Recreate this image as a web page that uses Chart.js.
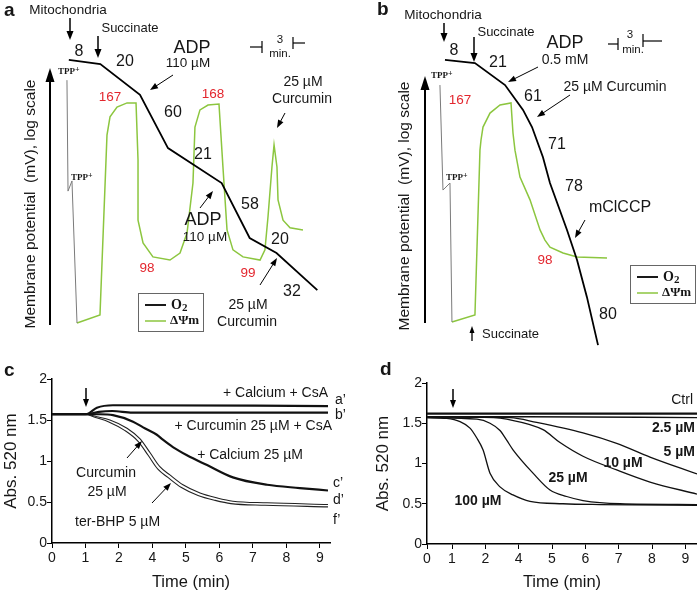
<!DOCTYPE html>
<html><head><meta charset="utf-8">
<script src="https://cdn.jsdelivr.net/npm/chart.js@4.4.1/dist/chart.umd.min.js"></script>
<style>
html,body{margin:0;padding:0;background:#fff;}
#wrap{position:relative;width:697px;height:592px;overflow:hidden;background:#fff;}
canvas{position:absolute;}
</style></head><body>
<div id="wrap">
<canvas id="ca" width="350" height="350" style="left:0;top:0"></canvas>
<canvas id="cb" width="347" height="350" style="left:350px;top:0"></canvas>
<canvas id="cc" width="350" height="232" style="left:0;top:360px"></canvas>
<canvas id="cd" width="347" height="232" style="left:350px;top:360px"></canvas>
</div>
<script>
// ================= DATA =================
// Panel a: schematic traces (x = time in min, y = signal, arbitrary log units)
const aO2Time = [5.9, 8.6, 12.0, 14.4, 19.0, 21.4, 23.7, 27.2];
const aO2Val  = [82.9, 81.7, 72.9, 57.7, 47.7, 32.0, 27.7, 17.1];
const aTppTime = [5.74, 5.83, 6.17, 6.60];
const aTppVal  = [77.1, 45.4, 48.3, 7.7];
const aPsiTime = [6.60, 8.57, 9.17, 9.43, 10.03, 10.89, 11.66, 11.83, 11.83, 12.26, 13.11, 14.57, 15.43, 16.03, 16.54, 16.71, 17.14, 17.83, 18.77, 19.11, 19.46, 19.97, 20.83, 22.29, 22.71, 22.97, 23.31, 23.49, 23.74, 23.83, 24.26, 24.86, 25.97];
const aPsiVal  = [7.7, 10.0, 61.4, 66.6, 69.4, 70.6, 70.6, 54.3, 37.1, 30.6, 26.6, 25.7, 27.7, 33.4, 47.7, 63.7, 68.6, 70.0, 70.3, 52.3, 34.3, 28.6, 26.6, 25.7, 28.6, 38.0, 52.3, 58.6, 52.3, 42.9, 37.1, 34.9, 34.3];

// Panel b
const bO2Time = [8.14, 10.71, 13.29, 14.83, 15.60, 16.54, 17.14, 18.60, 19.46, 20.31, 21.26];
const bO2Val  = [82.9, 82.0, 75.7, 68.6, 63.7, 55.1, 47.7, 34.3, 25.7, 15.1, 1.4];
const bTppTime = [7.71, 7.97, 8.57, 8.74];
const bTppVal  = [75.7, 45.7, 47.7, 8.0];
const bPsiTime = [8.74, 10.71, 11.14, 11.23, 11.40, 12.0, 12.86, 13.80, 13.97, 14.14, 14.57, 15.43, 16.29, 16.71, 17.14, 18.26, 19.46, 22.03];
const bPsiVal  = [8.0, 10.0, 57.1, 60.0, 63.7, 67.7, 70.0, 70.6, 62.0, 57.1, 49.4, 42.9, 34.3, 31.4, 29.4, 27.7, 26.6, 26.3];

// Panel c (x = tick position, labels below; y = Abs. 520 nm)
const cTickPos = [0, 1, 2, 3, 4, 5, 6, 7, 8];
const cTickLabels = ['0', '1', '2', '4', '5', '6', '7', '8', '9'];
const yTickVals = [0, 0.5, 1, 1.5, 2];
const yTickLabels = ['0', '0.5', '1', '1.5', '2'];
const cATime = [0, 1.01, 1.34, 1.82, 8.24];
const cAVal  = [1.57, 1.57, 1.65, 1.68, 1.67];
const cBTime = [0, 1.0, 1.4, 1.8, 2.4, 8.24];
const cBVal  = [1.57, 1.57, 1.60, 1.61, 1.59, 1.59];
const cCTime = [0, 1.0, 1.43, 1.82, 2.42, 2.72, 3.13, 3.31, 3.61, 4.03, 4.63, 5.40, 6.42, 7.40, 8.24];
const cCVal  = [1.57, 1.57, 1.57, 1.56, 1.48, 1.41, 1.32, 1.26, 1.17, 1.07, 0.95, 0.80, 0.71, 0.67, 0.64];
const cDTime = [0, 1.0, 1.34, 1.73, 2.24, 2.63, 2.93, 3.22, 3.52, 3.91, 4.42, 4.93, 5.40, 6.42, 8.24];
const cDVal  = [1.57, 1.57, 1.54, 1.50, 1.40, 1.27, 1.10, 0.93, 0.83, 0.71, 0.61, 0.55, 0.51, 0.49, 0.47];
const cFTime = [0, 1.0, 1.30, 1.68, 2.18, 2.57, 2.87, 3.16, 3.46, 3.85, 4.36, 4.87, 5.34, 6.36, 8.24];
const cFVal  = [1.57, 1.57, 1.53, 1.48, 1.37, 1.24, 1.07, 0.90, 0.80, 0.68, 0.58, 0.52, 0.48, 0.46, 0.44];

// Panel d
const dTickPos = [0, 0.75, 1.75, 2.75, 3.75, 4.75, 5.75, 6.75, 7.75];
const dTickLabels = ['0', '1', '2', '4', '5', '6', '7', '8', '9'];
const dCtrlTime = [0, 8.1];
const dCtrlVal  = [1.62, 1.62];
const d2_5Time = [0, 3, 8.1];
const d2_5Val  = [1.58, 1.58, 1.57];
const d5Time = [0, 2.5, 3.29, 4.68, 5.69, 6.69, 8.1];
const d5Val  = [1.58, 1.57, 1.51, 1.38, 1.25, 1.08, 0.87];
const d10Time = [0, 2.0, 2.39, 3.48, 3.99, 4.68, 5.69, 6.69, 8.1];
const d10Val  = [1.58, 1.57, 1.55, 1.42, 1.26, 1.09, 0.92, 0.77, 0.62];
const d25Time = [0, 1.5, 1.89, 2.19, 2.39, 2.58, 3.18, 3.69, 4.19, 4.68, 5.79, 8.1];
const d25Val  = [1.57, 1.55, 1.50, 1.41, 1.29, 1.17, 0.88, 0.67, 0.59, 0.54, 0.50, 0.49];
const d100Time = [0, 0.59, 0.99, 1.29, 1.49, 1.68, 1.89, 2.19, 2.58, 3.09, 4.08, 5.19, 8.1];
const d100Val  = [1.57, 1.56, 1.52, 1.44, 1.32, 1.17, 0.88, 0.71, 0.61, 0.53, 0.50, 0.49, 0.48];

// ================= STYLE =================
const F = '"Liberation Sans", Arial, sans-serif';
const SERIF = '"Liberation Serif", "Times New Roman", serif';
const INK = '#161616';
const RED = '#e3262e';
const GREEN = '#8cc63f';
const GRAY = '#7a7a7a';
const PX_PER_MIN = 35 / 3; // scale bar: 3 min
Chart.defaults.font.family = F;
Chart.defaults.color = INK;

const pts = (xs, ys) => xs.map((x, i) => ({x: x, y: ys[i]}));

function drawArrow(ctx, a) {
  const w = a.w || 1, hl = a.hl || 8, hw = a.hw || 6;
  const dx = a.x2 - a.x1, dy = a.y2 - a.y1, L = Math.hypot(dx, dy);
  const ux = dx / L, uy = dy / L;
  const bx = a.x2 - ux * hl, by = a.y2 - uy * hl;
  ctx.strokeStyle = ctx.fillStyle = a.c || '#000';
  ctx.lineWidth = w;
  ctx.beginPath(); ctx.moveTo(a.x1, a.y1); ctx.lineTo(bx + ux, by + uy); ctx.stroke();
  ctx.beginPath(); ctx.moveTo(a.x2, a.y2);
  ctx.lineTo(bx - uy * hw / 2, by + ux * hw / 2);
  ctx.lineTo(bx + uy * hw / 2, by - ux * hw / 2);
  ctx.closePath(); ctx.fill();
}
function drawText(ctx, t) {
  ctx.save();
  ctx.font = (t.b ? 'bold ' : '') + t.f + 'px ' + (t.ff || F);
  ctx.fillStyle = t.c || INK;
  ctx.textAlign = t.al || 'center';
  ctx.textBaseline = 'middle';
  ctx.translate(t.x, t.y);
  if (t.r) ctx.rotate(t.r * Math.PI / 180);
  ctx.fillText(t.s, 0, 0);
  ctx.restore();
}
const annotPlugin = {
  id: 'annot',
  afterDraw(chart, args, o) {
    const ctx = chart.ctx;
    ctx.save();
    ctx.translate(-o.ox, -o.oy);
    (o.boxes || []).forEach(b => { ctx.strokeStyle = b.c || '#666'; ctx.lineWidth = 1; ctx.strokeRect(b.x + 0.5, b.y + 0.5, b.w, b.h); });
    (o.segs || []).forEach(s => {
      ctx.beginPath(); ctx.strokeStyle = s.c || '#000'; ctx.lineWidth = s.w || 1.2;
      ctx.moveTo(s.p[0], s.p[1]);
      for (let i = 2; i < s.p.length; i += 2) ctx.lineTo(s.p[i], s.p[i + 1]);
      ctx.stroke();
    });
    (o.arrows || []).forEach(a => drawArrow(ctx, a));
    (o.texts || []).forEach(t => drawText(ctx, t));
    ctx.restore();
  }
};
function tpp(x, y) {
  return [{s: 'TPP', x: x + 5, y: y, f: 9, b: 1, ff: SERIF, al: 'right'},
          {s: '+', x: x + 5, y: y - 2, f: 8, b: 1, ff: SERIF, al: 'left'}];
}
function legend(x, y) {
  return {
    boxes: [{x: x, y: y, w: 65, h: 38}],
    segs: [{p: [x + 7, y + 12, x + 28, y + 12], w: 1.8, c: '#000'}, {p: [x + 7, y + 28, x + 28, y + 28], w: 1.5, c: GREEN}],
    texts: [{s: 'O', x: x + 33, y: y + 12, f: 14, b: 1, ff: SERIF, al: 'left'},
            {s: '2', x: x + 44, y: y + 15, f: 11, b: 1, ff: SERIF, al: 'left'},
            {s: 'ΔΨm', x: x + 32, y: y + 28, f: 13, b: 1, ff: SERIF, al: 'left'}]
  };
}

function schematic(id, sets, annot) {
  const cv = document.getElementById(id);
  return new Chart(cv, {
    type: 'line',
    data: {datasets: sets},
    options: {
      responsive: false, animation: false, devicePixelRatio: 1, events: [],
      layout: {padding: 0},
      scales: {
        x: {type: 'linear', display: false, min: 0, max: cv.width / PX_PER_MIN},
        y: {type: 'linear', display: false, min: 0, max: 100}
      },
      elements: {point: {radius: 0}, line: {tension: 0}},
      plugins: {legend: {display: false}, tooltip: {enabled: false}, annot: annot}
    },
    plugins: [annotPlugin]
  });
}
function trace(xs, ys, color, w) {
  return {data: pts(xs, ys), borderColor: color, borderWidth: w, fill: false, pointRadius: 0};
}

// ---------- Panel a ----------
const legA = legend(138, 293);
schematic('ca', [
  trace(aO2Time, aO2Val, '#000', 1.8),
  trace(aTppTime, aTppVal, GRAY, 1),
  trace(aPsiTime, aPsiVal, GREEN, 1.5)
], {
  ox: 0, oy: 0,
  boxes: legA.boxes,
  segs: [{p: [250, 47, 262, 47]}, {p: [262, 41, 262, 53]}, {p: [293, 37, 293, 49]}, {p: [293, 43, 305, 43]}].concat(legA.segs),
  arrows: [
    {x1: 50, y1: 325, x2: 50, y2: 68, w: 2, hl: 14, hw: 9},
    {x1: 70, y1: 18, x2: 70, y2: 40, w: 1.5, hl: 9, hw: 7},
    {x1: 98, y1: 36, x2: 98, y2: 58, w: 1.5, hl: 9, hw: 7},
    {x1: 173, y1: 75, x2: 150, y2: 90},
    {x1: 285, y1: 113, x2: 277, y2: 128},
    {x1: 200, y1: 208, x2: 213, y2: 191},
    {x1: 260, y1: 285, x2: 277, y2: 258}
  ],
  texts: [
    {s: 'a', x: 4, y: 11, f: 19, b: 1, al: 'left'},
    {s: 'Mitochondria', x: 68, y: 10, f: 13.5},
    {s: 'Succinate', x: 130, y: 28, f: 13},
    {s: '8', x: 79, y: 52, f: 16},
    {s: '20', x: 125, y: 62, f: 16},
    {s: 'ADP', x: 192, y: 48, f: 18},
    {s: '110 µM', x: 188, y: 63, f: 13.5},
    {s: '60', x: 173, y: 113, f: 16},
    {s: '167', x: 110, y: 97, f: 13.5, c: RED},
    {s: '168', x: 213, y: 94, f: 13.5, c: RED},
    {s: '21', x: 203, y: 155, f: 16},
    {s: '25 µM', x: 303, y: 82, f: 14},
    {s: 'Curcumin', x: 302, y: 99, f: 14},
    {s: '3', x: 280, y: 40, f: 11.5},
    {s: 'min.', x: 280, y: 54, f: 11.5},
    {s: 'ADP', x: 203, y: 220, f: 18},
    {s: '110 µM', x: 205, y: 237, f: 13.5},
    {s: '58', x: 250, y: 205, f: 16},
    {s: '20', x: 280, y: 240, f: 16},
    {s: '32', x: 292, y: 292, f: 16},
    {s: '98', x: 147, y: 268, f: 13.5, c: RED},
    {s: '99', x: 248, y: 273, f: 13.5, c: RED},
    {s: '25 µM', x: 248, y: 305, f: 14},
    {s: 'Curcumin', x: 247, y: 322, f: 14},
    {s: 'Membrane potential  (mV), log scale', x: 31, y: 204, f: 15.5, r: -90}
  ].concat(tpp(70, 72), tpp(83, 178), legA.texts)
});

// ---------- Panel b ----------
const legB = legend(630, 265);
schematic('cb', [
  trace(bO2Time, bO2Val, '#000', 1.8),
  trace(bTppTime, bTppVal, GRAY, 1),
  trace(bPsiTime, bPsiVal, GREEN, 1.5)
], {
  ox: 350, oy: 0,
  boxes: legB.boxes,
  segs: [{p: [608, 44, 618, 44]}, {p: [618, 38, 618, 50]}, {p: [643, 34, 643, 47]}, {p: [643, 41, 662, 41]}].concat(legB.segs),
  arrows: [
    {x1: 425, y1: 323, x2: 425, y2: 76, w: 2, hl: 14, hw: 9},
    {x1: 444, y1: 23, x2: 444, y2: 42, w: 1.5, hl: 9, hw: 7},
    {x1: 474, y1: 37, x2: 474, y2: 62, w: 1.5, hl: 9, hw: 7},
    {x1: 538, y1: 67, x2: 508, y2: 82},
    {x1: 570, y1: 95, x2: 537, y2: 117},
    {x1: 585, y1: 220, x2: 575, y2: 238},
    {x1: 472, y1: 341, x2: 472, y2: 326, w: 1.3, hl: 7, hw: 5}
  ],
  texts: [
    {s: 'b', x: 377, y: 10, f: 19, b: 1, al: 'left'},
    {s: 'Mitochondria', x: 443, y: 15, f: 13.5},
    {s: '8', x: 454, y: 51, f: 16},
    {s: 'Succinate', x: 506, y: 32, f: 13},
    {s: '21', x: 498, y: 63, f: 16},
    {s: 'ADP', x: 565, y: 43, f: 18},
    {s: '0.5 mM', x: 565, y: 60, f: 14},
    {s: '3', x: 630, y: 35, f: 11.5},
    {s: 'min.', x: 633, y: 50, f: 11.5},
    {s: '61', x: 533, y: 97, f: 16},
    {s: '25 µM Curcumin', x: 615, y: 87, f: 14},
    {s: '167', x: 460, y: 100, f: 13.5, c: RED},
    {s: '71', x: 557, y: 145, f: 16},
    {s: '78', x: 574, y: 187, f: 16},
    {s: 'mClCCP', x: 620, y: 208, f: 16},
    {s: '98', x: 545, y: 260, f: 13.5, c: RED},
    {s: '80', x: 608, y: 315, f: 16},
    {s: 'Succinate', x: 482, y: 334, f: 13, al: 'left'},
    {s: 'Membrane potential  (mV), log scale', x: 405, y: 206, f: 15.5, r: -90}
  ].concat(tpp(443, 76), tpp(458, 178), legB.texts)
});

// ---------- Panels c, d ----------
function absChart(id, sets, cfg) {
  return new Chart(document.getElementById(id), {
    type: 'line',
    data: {datasets: sets},
    options: {
      responsive: false, animation: false, devicePixelRatio: 1, events: [],
      layout: {padding: cfg.pad},
      elements: {point: {radius: 0}, line: {cubicInterpolationMode: 'monotone'}},
      plugins: {legend: {display: false}, tooltip: {enabled: false}, annot: cfg.annot},
      scales: {
        x: {
          type: 'linear', min: 0, max: cfg.xMax,
          afterBuildTicks: s => { s.ticks = cfg.xPos.map(v => ({value: v})); },
          afterFit: s => { s.height = cfg.xH; },
          ticks: {autoSkip: false, maxRotation: 0, padding: 2, color: INK, font: {size: 14}, callback: (v, i) => cfg.xLabels[i]},
          grid: {drawOnChartArea: false, drawTicks: true, tickLength: 5, color: '#000', lineWidth: 1},
          border: {display: true, color: '#000', width: 1.5},
          title: {display: true, text: 'Time (min)', color: INK, font: {size: 16.5}, padding: {top: 0, bottom: 0}}
        },
        y: {
          type: 'linear', min: 0, max: 2,
          afterBuildTicks: s => { s.ticks = yTickVals.map(v => ({value: v})); },
          afterFit: s => { s.width = cfg.yW; },
          ticks: {padding: 0, color: INK, font: {size: 14}, callback: (v, i) => yTickLabels[i]},
          grid: {drawOnChartArea: false, drawTicks: true, tickLength: 5, color: '#000', lineWidth: 1},
          border: {display: true, color: '#000', width: 1.5},
          title: {display: true, text: 'Abs. 520 nm', color: INK, font: {size: 17}, padding: {top: cfg.yTitlePad, bottom: 0}}
        }
      }
    },
    plugins: [annotPlugin]
  });
}

absChart('cc', [
  trace(cATime, cAVal, '#111', 2.2),
  trace(cBTime, cBVal, '#111', 2.2),
  trace(cCTime, cCVal, '#111', 2.2),
  trace(cDTime, cDVal, '#222', 1.1),
  trace(cFTime, cFVal, '#222', 1.1)
], {
  pad: {left: 0, top: 19, right: 20, bottom: 0}, xMax: 8.3, xH: 49, yW: 52, yTitlePad: 0.8,
  xPos: cTickPos, xLabels: cTickLabels,
  annot: {
    ox: 0, oy: 360,
    arrows: [
      {x1: 86, y1: 388, x2: 86, y2: 407, w: 1.5, hl: 8, hw: 6},
      {x1: 127, y1: 458, x2: 142, y2: 441},
      {x1: 152, y1: 503, x2: 171, y2: 483}
    ],
    texts: [
      {s: 'c', x: 4, y: 371, f: 19, b: 1, al: 'left'},
      {s: '+ Calcium + CsA', x: 328, y: 393, f: 14, al: 'right'},
      {s: 'a’', x: 335, y: 400, f: 14, al: 'left'},
      {s: 'b’', x: 335, y: 415, f: 14, al: 'left'},
      {s: '+ Curcumin 25 µM + CsA', x: 332, y: 426, f: 14, al: 'right'},
      {s: '+ Calcium 25 µM', x: 250, y: 455, f: 14},
      {s: 'Curcumin', x: 106, y: 473, f: 14},
      {s: '25 µM', x: 107, y: 492, f: 14},
      {s: 'ter-BHP 5 µM', x: 75, y: 522, f: 14, al: 'left'},
      {s: 'c’', x: 333, y: 483, f: 14, al: 'left'},
      {s: 'd’', x: 333, y: 500, f: 14, al: 'left'},
      {s: 'f’', x: 333, y: 520, f: 14, al: 'left'}
    ]
  }
});

absChart('cd', [
  trace(dCtrlTime, dCtrlVal, '#111', 2.2),
  trace(d2_5Time, d2_5Val, '#111', 1.4),
  trace(d5Time, d5Val, '#111', 1.3),
  trace(d10Time, d10Val, '#111', 1.3),
  trace(d25Time, d25Val, '#111', 1.3),
  trace(d100Time, d100Val, '#111', 1.3)
], {
  pad: {left: 0, top: 23, right: 0, bottom: 0}, xMax: 8.1, xH: 48, yW: 77, yTitlePad: 22.8,
  xPos: dTickPos, xLabels: dTickLabels,
  annot: {
    ox: 350, oy: 360,
    arrows: [{x1: 453, y1: 389, x2: 453, y2: 408, w: 1.5, hl: 8, hw: 6}],
    texts: [
      {s: 'd', x: 380, y: 370, f: 19, b: 1, al: 'left'},
      {s: 'Ctrl', x: 693, y: 400, f: 14, al: 'right'},
      {s: '2.5 µM', x: 695, y: 428, f: 14, b: 1, al: 'right'},
      {s: '5 µM', x: 695, y: 452, f: 14, b: 1, al: 'right'},
      {s: '10 µM', x: 623, y: 463, f: 14, b: 1},
      {s: '25 µM', x: 568, y: 478, f: 14, b: 1},
      {s: '100 µM', x: 478, y: 501, f: 14, b: 1}
    ]
  }
});
</script>
</body></html>
